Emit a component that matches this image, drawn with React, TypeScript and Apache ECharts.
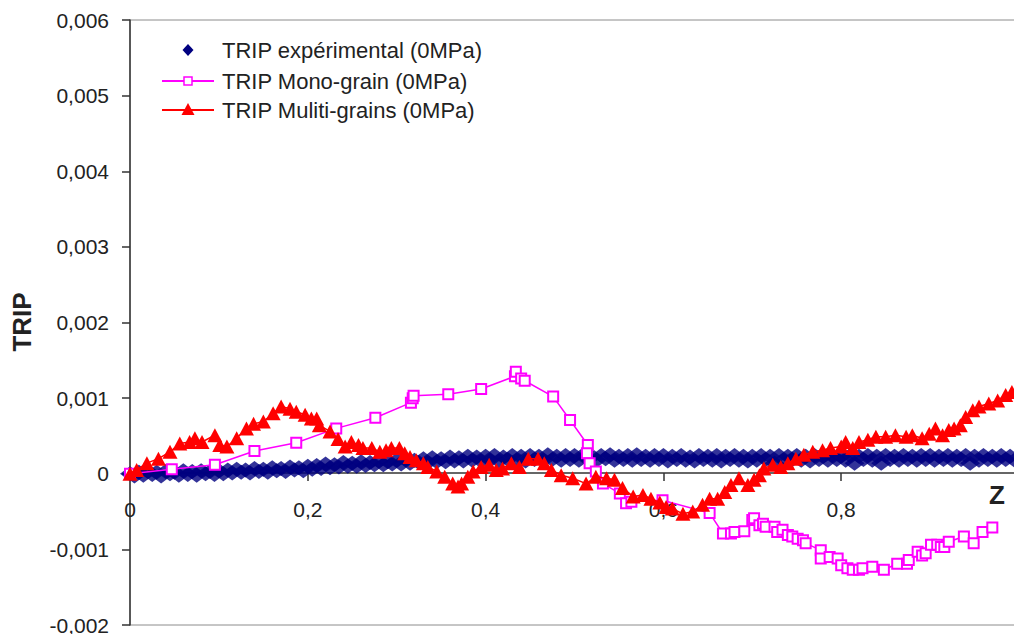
import React, { useEffect, useRef } from "react";
import * as echarts from "echarts";

// Experimental TRIP (dense measurement), sampled every 0.005 in Z
const expStep = 0.005;
const expY = [
  0, -0.00003, 0.00002, -0.00002, 0.00003, -0.00001, 0.00002, -0.00003, 0.00003, 0, 0.00002, -0.00002, 0.00004, -0.00001, 0.00003, -0.00002, 0.00004, 0, 0.00003, -0.00001,
  0.00004, 0, 0.00005, 0.00001, 0.00006, 0.00002, 0.00005, 0.00001, 0.00007, 0.00003, 0.00006, 0.00002, 0.00008, 0.00004, 0.00007, 0.00003, 0.00009, 0.00005, 0.00008, 0.00004,
  0.0001, 0.00006, 0.00011, 0.00007, 0.00013, 0.00008, 0.00012, 0.00009, 0.00015, 0.0001, 0.00014, 0.0001, 0.00016, 0.00011, 0.00015, 0.00012, 0.00017, 0.00012, 0.00016, 0.00013,
  0.00018, 0.00013, 0.00019, 0.00014, 0.00018, 0.00015, 0.0002, 0.00015, 0.00021, 0.00016, 0.0002, 0.00016, 0.00022, 0.00017, 0.00021, 0.00017, 0.00023, 0.00018, 0.00022, 0.00017,
  0.00023, 0.00018, 0.00024, 0.00017, 0.00022, 0.00019, 0.00024, 0.00018, 0.00023, 0.00017, 0.00024, 0.00019, 0.00023, 0.00018, 0.00025, 0.00019, 0.00023, 0.00018, 0.00024, 0.00019,
  0.00024, 0.00018, 0.00025, 0.00019, 0.00023, 0.00018, 0.00024, 0.0002, 0.00025, 0.00018, 0.00023, 0.00019, 0.00024, 0.00018, 0.00025, 0.00019, 0.00023, 0.00018, 0.00024, 0.00019,
  0.00024, 0.00017, 0.00023, 0.00019, 0.00024, 0.00018, 0.00022, 0.00017, 0.00024, 0.00019, 0.00023, 0.00018, 0.00024, 0.00017, 0.00023, 0.00019, 0.00024, 0.00018, 0.00023, 0.00017,
  0.00023, 0.00018, 0.00024, 0.00019, 0.00023, 0.00014, 0.00024, 0.00018, 0.00023, 0.00019, 0.00024, 0.00018, 0.00023, 0.00017, 0.00024, 0.00019, 0.00023, 0.00018, 0.00024, 0.00019,
  0.00023, 0.00018, 0.00024, 0.00014, 0.00023, 0.00019, 0.00024, 0.00018, 0.00023, 0.00014, 0.00024, 0.00019, 0.00023, 0.00018, 0.00024, 0.00019, 0.00023, 0.00018, 0.00024, 0.00019,
  0.00024, 0.00018, 0.00023, 0.00019, 0.00024, 0.00018, 0.00023, 0.00019, 0.00024, 0.00014, 0.00023, 0.00018, 0.00024, 0.00019, 0.00023, 0.00018, 0.00024, 0.00019, 0.00023, 0.00018,
];

// TRIP Mono-grain
const monoX = [
  0, 0.047, 0.0955, 0.14, 0.187, 0.232, 0.276, 0.316, 0.318, 0.319,
  0.358, 0.395, 0.433, 0.434, 0.44, 0.444, 0.476, 0.495, 0.515, 0.514,
  0.517, 0.524, 0.532, 0.551, 0.558, 0.564, 0.599, 0.652, 0.667, 0.676,
  0.68, 0.691, 0.7, 0.702, 0.708, 0.712, 0.715, 0.725, 0.728, 0.734,
  0.74, 0.745, 0.751, 0.757, 0.76, 0.777, 0.777, 0.787, 0.796, 0.8,
  0.807, 0.813, 0.82, 0.824, 0.835, 0.848, 0.863, 0.874, 0.876, 0.886,
  0.891, 0.895, 0.901, 0.908, 0.912, 0.916, 0.921, 0.938, 0.949, 0.959,
  0.97,
];
const monoY = [
  0, 0.00006, 0.00012, 0.0003, 0.00041, 0.0006, 0.00074, 0.00094, 0.001, 0.00103,
  0.00105, 0.00112, 0.00129, 0.00135, 0.00126, 0.00123, 0.00102, 0.00071, 0.00038, 0.00027,
  0.00014, 0.00003, -0.00013, -0.00026, -0.00039, -0.00037, -0.00035, -0.00052, -0.00079, -0.00079,
  -0.00077, -0.00076, -0.00061, -0.00059, -0.00068, -0.00066, -0.0007, -0.0007, -0.00077, -0.00074,
  -0.00081, -0.00083, -0.00086, -0.00088, -0.00092, -0.00101, -0.00112, -0.0011, -0.00112, -0.00121,
  -0.00125, -0.00127, -0.00127, -0.00125, -0.00123, -0.00127, -0.00119, -0.00119, -0.00114, -0.00103,
  -0.00108, -0.00105, -0.00094, -0.00094, -0.00097, -0.00097, -0.0009, -0.00083, -0.00092, -0.00077,
  -0.00071,
];

// TRIP Multi-grains
const multiX = [
  0, 0.0075, 0.019, 0.032, 0.045, 0.056, 0.067, 0.073, 0.081, 0.0955,
  0.101, 0.109, 0.12, 0.131, 0.139, 0.15, 0.161, 0.17, 0.18, 0.187,
  0.197, 0.204, 0.21, 0.213, 0.225, 0.234, 0.242, 0.249, 0.257, 0.262,
  0.272, 0.281, 0.288, 0.294, 0.303, 0.309, 0.315, 0.322, 0.33, 0.335,
  0.345, 0.354, 0.363, 0.369, 0.373, 0.38, 0.386, 0.395, 0.404, 0.412,
  0.419, 0.429, 0.438, 0.448, 0.459, 0.466, 0.474, 0.485, 0.498, 0.513,
  0.524, 0.536, 0.545, 0.554, 0.566, 0.577, 0.586, 0.596, 0.603, 0.61,
  0.622, 0.633, 0.644, 0.652, 0.661, 0.669, 0.676, 0.685, 0.695, 0.702,
  0.708, 0.713, 0.723, 0.732, 0.74, 0.749, 0.758, 0.768, 0.779, 0.788,
  0.8, 0.805, 0.813, 0.82, 0.83, 0.839, 0.85, 0.861, 0.873, 0.88,
  0.891, 0.899, 0.906, 0.914, 0.921, 0.927, 0.934, 0.94, 0.948, 0.955,
  0.966, 0.976, 0.985, 0.992, 1.0,
];
const multiY = [
  0, 0.00005, 0.00014, 0.0002, 0.00029, 0.0004, 0.00042, 0.00047, 0.00042, 0.00051,
  0.00038, 0.00036, 0.00047, 0.0006, 0.00066, 0.00069, 0.0008, 0.00089, 0.00086, 0.00082,
  0.00078, 0.00073, 0.00073, 0.00064, 0.00056, 0.00046, 0.00036, 0.00042, 0.00038, 0.00034,
  0.00034, 0.00029, 0.00031, 0.00034, 0.00034, 0.00027, 0.00022, 0.00018, 0.00014, 0.00009,
  0.00003, -0.00004, -0.00013, -0.00017, -0.00013, -0.00004, 0.00003, 0.00009, 0.00012, 0.00005,
  0.00007, 0.00014, 0.00009, 0.0002, 0.0002, 0.00014, 0.00005, -0.00002, -0.00006, -0.00013,
  -0.00004, -0.00006, -0.00008, -0.00019, -0.0003, -0.00028, -0.00033, -0.00038, -0.00044, -0.00046,
  -0.00053, -0.0005, -0.00041, -0.00033, -0.00033, -0.00024, -0.00015, -0.00006, -0.00015, -0.00008,
  -0.00002, 0.00007, 0.00012, 0.00009, 0.00014, 0.0002, 0.00025, 0.00029, 0.00031, 0.00034,
  0.00036, 0.00042, 0.00034, 0.00042, 0.00045, 0.00049, 0.00049, 0.00051, 0.00049, 0.00051,
  0.00047, 0.00053, 0.0006, 0.00051, 0.00058, 0.0006, 0.00064, 0.00075, 0.00084, 0.00089,
  0.00093, 0.00097, 0.00104, 0.00108, 0.0011,
];

const seriesNames = [
  "TRIP expérimental (0MPa)",
  "TRIP Mono-grain (0MPa)",
  "TRIP Muliti-grains (0MPa)",
];

const FONT = "'Liberation Sans', Arial, sans-serif";
const NAVY = "#000080";
const MAGENTA = "#FF00FF";
const RED = "#FF0000";

export default function App() {
  const ref = useRef<HTMLDivElement>(null);

  useEffect(() => {
    if (!ref.current) return;
    const chart = echarts.init(ref.current, undefined, { renderer: "svg" });
    const expData = expY.map((y, i) => [Number((i * expStep).toFixed(3)), y]);
    const monoData = monoX.map((x, i) => [x, monoY[i]]);
    const multiData = multiX.map((x, i) => [x, multiY[i]]);

    const legendText = (text: string, y: number) => ({
      type: "text",
      x: 222,
      y,
      z: 100,
      style: {
        text,
        font: `22px ${FONT}`,
        fill: "#222",
        align: "left",
        verticalAlign: "middle",
      },
    });

    chart.setOption({
      animation: false,
      backgroundColor: "#ffffff",
      grid: {
        left: 130,
        top: 20,
        width: 889,
        height: 605,
        show: true,
        borderColor: "#8c8c8c",
        borderWidth: 1,
        backgroundColor: "transparent",
        containLabel: false,
        outerBoundsMode: "none",
      },
      xAxis: {
        type: "value",
        min: 0,
        max: 1,
        interval: 0.2,
        position: "bottom",
        offset: -152,
        axisLine: { onZero: false, lineStyle: { color: "#333", width: 1.5 } },
        axisTick: { show: true, inside: false, length: 8, lineStyle: { color: "#333", width: 1.5 } },
        axisLabel: {
          margin: 26,
          fontFamily: FONT,
          fontSize: 21,
          color: "#222",
          formatter: (v: number) => (v >= 0.999 ? "" : v === 0 ? "0" : v.toFixed(1).replace(".", ",")),
        },
        splitLine: { show: false },
      },
      yAxis: {
        type: "value",
        min: -0.002,
        max: 0.006,
        interval: 0.001,
        axisLine: { show: true, onZero: false, lineStyle: { color: "#333", width: 1.5 } },
        axisTick: { show: true, inside: false, length: 8, lineStyle: { color: "#333", width: 1.5 } },
        axisLabel: {
          margin: 21,
          fontFamily: FONT,
          fontSize: 21,
          color: "#222",
          formatter: (v: number) => (Math.abs(v) < 1e-9 ? "0" : v.toFixed(3).replace(".", ",")),
        },
        splitLine: { show: false },
      },
      graphic: [
        {
          type: "text",
          x: 22,
          y: 322,
          rotation: Math.PI / 2,
          style: {
            text: "TRIP",
            font: `bold 26px ${FONT}`,
            fill: "#222",
            align: "center",
            verticalAlign: "middle",
          },
        },
        {
          type: "text",
          x: 997,
          y: 495,
          z: 100,
          style: {
            text: "Z",
            font: `bold 26px ${FONT}`,
            fill: "#222",
            align: "center",
            verticalAlign: "middle",
          },
        },
        // legend
        {
          type: "polygon",
          z: 100,
          shape: { points: [[188, 44], [193.5, 50], [188, 56], [182.5, 50]] },
          style: { fill: NAVY },
        },
        legendText(seriesNames[0], 50),
        {
          type: "line",
          z: 100,
          shape: { x1: 162, y1: 81, x2: 214, y2: 81 },
          style: { stroke: MAGENTA, lineWidth: 2 },
        },
        {
          type: "rect",
          z: 101,
          shape: { x: 184, y: 77, width: 8, height: 8 },
          style: { fill: "#fff", stroke: MAGENTA, lineWidth: 1.5 },
        },
        legendText(seriesNames[1], 81),
        {
          type: "line",
          z: 100,
          shape: { x1: 162, y1: 110, x2: 214, y2: 110 },
          style: { stroke: RED, lineWidth: 2 },
        },
        {
          type: "polygon",
          z: 101,
          shape: { points: [[188, 103], [194.5, 115], [181.5, 115]] },
          style: { fill: RED },
        },
        legendText(seriesNames[2], 110),
      ],
      series: [
        {
          name: seriesNames[0],
          type: "scatter",
          symbol: "diamond",
          symbolSize: [20, 15],
          itemStyle: { color: NAVY },
          data: expData,
          z: 2,
        },
        {
          name: seriesNames[1],
          type: "line",
          symbol: "emptyRect",
          symbolSize: 10,
          showAllSymbol: true,
          lineStyle: { color: MAGENTA, width: 1.5 },
          itemStyle: { color: MAGENTA, borderColor: MAGENTA, borderWidth: 1.5 },
          data: monoData,
          z: 3,
        },
        {
          name: seriesNames[2],
          type: "line",
          symbol: "triangle",
          symbolSize: [15, 14],
          showAllSymbol: true,
          lineStyle: { color: RED, width: 1.5 },
          itemStyle: { color: RED },
          data: multiData,
          z: 4,
        },
      ],
    });

    return () => chart.dispose();
  }, []);

  return (
    <div
      style={{
        position: "fixed",
        left: 0,
        top: 0,
        width: 1014,
        height: 634,
        overflow: "hidden",
        background: "#fff",
      }}
    >
      <div ref={ref} style={{ width: 1030, height: 634 }} />
    </div>
  );
}
